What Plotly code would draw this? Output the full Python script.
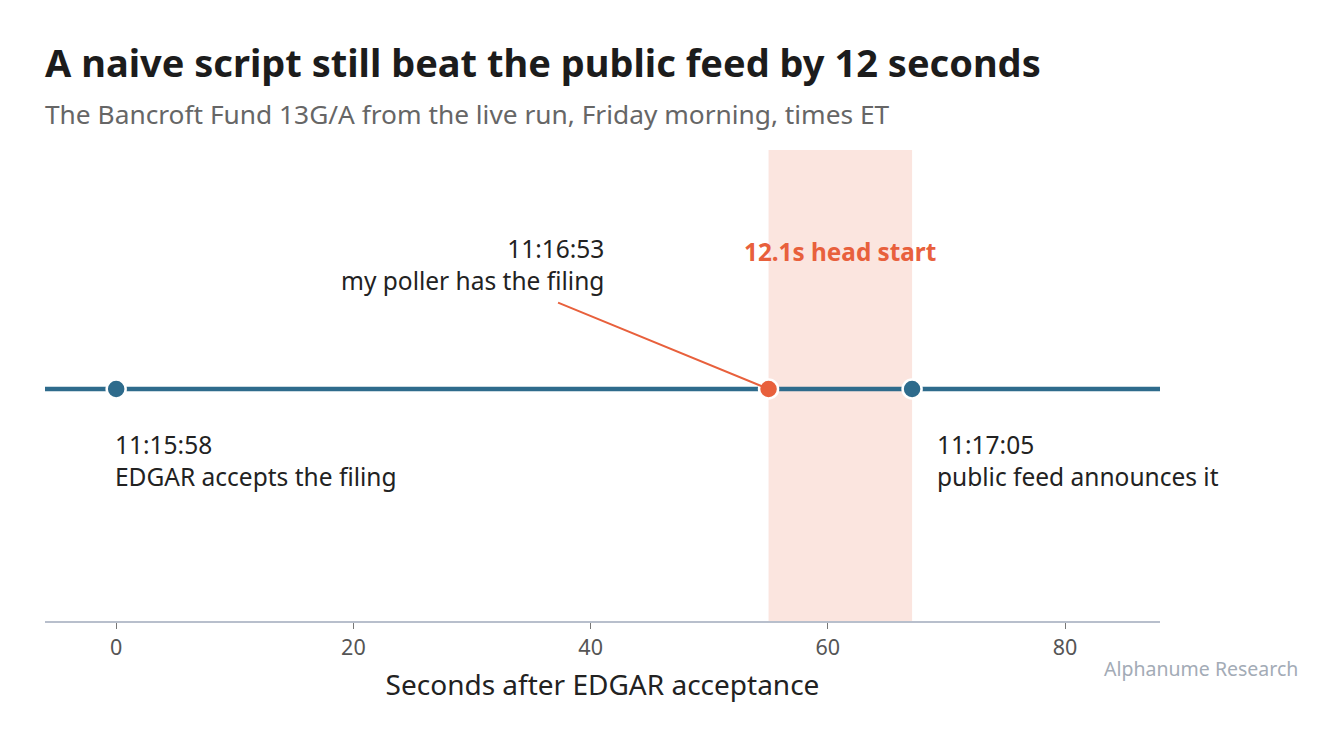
import plotly.graph_objects as go

# Data
event_seconds = [0.0, 55.0, 67.1]
event_times = ["11:15:58", "11:16:53", "11:17:05"]
event_labels = ["EDGAR accepts the filing", "my poller has the filing", "public feed announces it"]
event_colors = ["#2e6b8c", "#e8603c", "#2e6b8c"]
head_start_label = "12.1s head start"
x_ticks = [0, 20, 40, 60, 80]

BLUE = "#2e6b8c"
ORANGE = "#e8603c"
FONT = "Noto Sans"

fig = go.Figure()

# baseline timeline
fig.add_trace(go.Scatter(
    x=[-6, 88], y=[0, 0], mode="lines",
    line=dict(color=BLUE, width=4.5), hoverinfo="skip", showlegend=False,
))

# head start band
fig.add_vrect(x0=event_seconds[1], x1=event_seconds[2], fillcolor="#fbe5df",
              line_width=0, layer="below")

# events
fig.add_trace(go.Scatter(
    x=event_seconds, y=[0] * len(event_seconds), mode="markers",
    marker=dict(size=19, color=event_colors, line=dict(color="white", width=2.5)),
    showlegend=False, hoverinfo="skip",
))

txt_font = dict(family=FONT, size=24.5, color="#222222")


def label(x, xanchor, align, xshift, yshift, t1, t2):
    fig.add_annotation(x=x, y=0, xref="x", yref="y", text=f"{t1}<br>{t2}",
                       showarrow=False, xanchor=xanchor, yanchor="middle", align=align,
                       xshift=xshift, yshift=yshift, font=txt_font)


# EDGAR label
label(event_seconds[0], "left", "left", -3, -72, event_times[0], event_labels[0])
# public feed label
label(event_seconds[2], "left", "left", 23, -72, event_times[2], event_labels[2])
# poller label
label(event_seconds[1], "right", "right", -163, 124, event_times[1], event_labels[1])
# poller leader line
fig.add_annotation(x=event_seconds[1], y=0, xref="x", yref="y", text="",
                   showarrow=True, arrowhead=0, arrowwidth=2, arrowcolor=ORANGE,
                   ax=-212, ay=-87, axref="pixel", ayref="pixel", standoff=0)
# head start label
fig.add_annotation(x=(event_seconds[1] + event_seconds[2]) / 2, y=0, xref="x", yref="y",
                   text=f"<b>{head_start_label}</b>", showarrow=False,
                   yshift=137, font=dict(family=FONT, size=24.3, color=ORANGE))

# title & subtitle
fig.add_annotation(x=0, y=1.187, xref="paper", yref="paper", xanchor="left", yanchor="middle",
                   xshift=-2,
                   text="<b>A naive script still beat the public feed by 12 seconds</b>",
                   showarrow=False, font=dict(family=FONT, size=38, color="#1c1c1c"))
fig.add_annotation(x=0, y=1.0764, xref="paper", yref="paper", xanchor="left", yanchor="middle",
                   xshift=-2,
                   text="The Bancroft Fund 13G/A from the live run, Friday morning, times ET",
                   showarrow=False, font=dict(family=FONT, size=26.3, color="#666666"))
fig.add_annotation(x=1.1229, y=-0.0998, xref="paper", yref="paper", xanchor="right", yanchor="middle",
                   xshift=3,
                   text="Alphanume Research", showarrow=False,
                   font=dict(family=FONT, size=19.5, color="#a3abb6"))

fig.update_xaxes(range=[-6, 88], tickvals=x_ticks, ticks="outside", ticklen=6,
                 tickcolor="#777777", tickwidth=1.2,
                 showline=True, linecolor="#b8bfcc", linewidth=2, showgrid=False,
                 zeroline=False, tickfont=dict(family=FONT, size=21.5, color="#555555"),
                 title=dict(text="Seconds after EDGAR acceptance", standoff=16,
                            font=dict(family=FONT, size=28, color="#222222")))
fig.update_yaxes(range=[-1, 1.03], visible=False, showgrid=False, zeroline=False)

fig.update_layout(
    width=1342, height=748, margin=dict(l=37, r=190, t=142, b=135),
    plot_bgcolor="white", paper_bgcolor="white", showlegend=False,
    font=dict(family=FONT),
)

fig.write_html("out.html")
